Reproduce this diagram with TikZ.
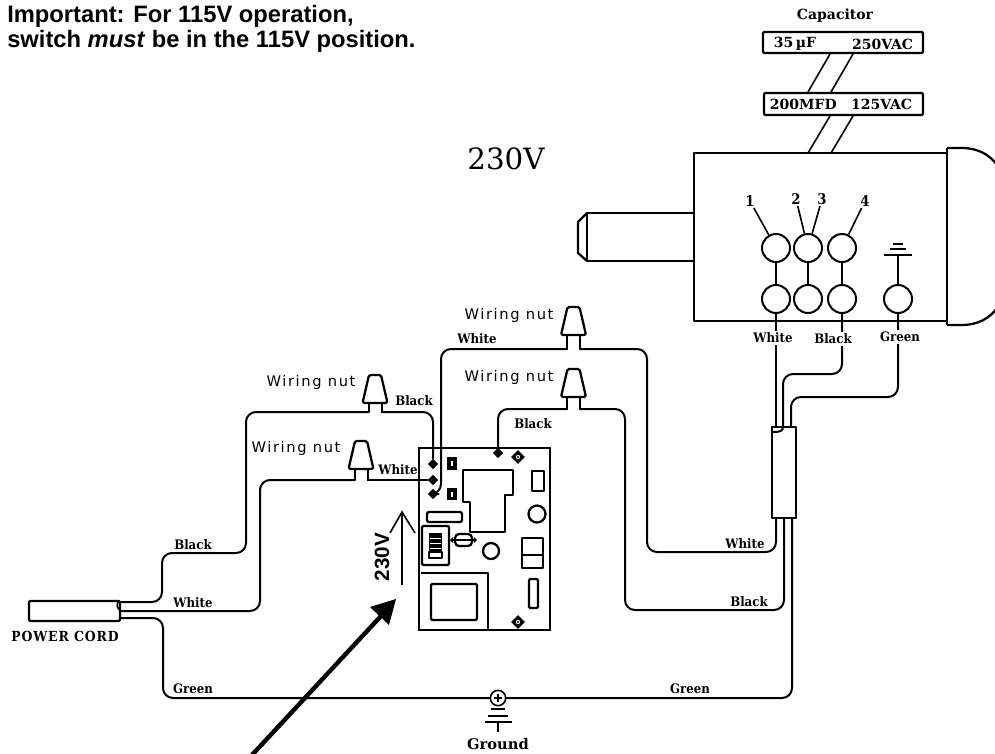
\documentclass[tikz,border=0pt]{standalone}
\usepackage{fontspec}
\usetikzlibrary{shapes.geometric}
\setmainfont{Liberation Sans}
\newfontfamily\slabf{DejaVu Serif Condensed}
\newfontfamily\capf{DejaVu Serif}
\newfontfamily\widef[LetterSpace=11]{DejaVu Sans}
\newfontfamily\bigf{DejaVu Serif}
\tikzset{
  wire/.style={line width=1.5pt,rounded corners=7.5pt,line cap=round},
  part/.style={line width=1.7pt,line join=round},
  thin part/.style={line width=1.2pt},
  lab/.style={font=\slabf\bfseries\fontsize{9.8}{11}\selectfont,inner sep=0.5pt},
  capl/.style={font=\capf\bfseries\fontsize{10.5}{12}\selectfont,inner sep=0.5pt},
  wlab/.style={lab,fill=white,inner sep=1.5pt},
  nutlab/.style={font=\widef\fontsize{11}{12}\selectfont,inner sep=0pt},
  term/.style={diamond,fill=black,inner sep=0pt,minimum size=8pt},
  tc/.style={circle,draw,line width=1.5pt,inner sep=0pt,minimum size=21pt},
  num/.style={font=\slabf\bfseries\fontsize{11}{12}\selectfont,inner sep=1pt},
  notetext/.style={anchor=base west,font=\bfseries\fontsize{17.8}{20}\selectfont,inner sep=0pt},
}
% name, centre x, base y, wire y
\newcommand{\wnut}[4]{%
  \draw[part,rounded corners=1.2pt] (#2-12.5,#3) -- (#2-6,#3-28) -- (#2+6,#3-28) -- (#2+12.5,#3) -- cycle;
  \coordinate (#1-l) at (#2-6.5,#4);
  \coordinate (#1-r) at (#2+6.5,#4);
  \draw[wire,rounded corners=0pt] (#2-6.5,#3) -- (#1-l);
  \draw[wire,rounded corners=0pt] (#2+6.5,#3) -- (#1-r);
}
\newcommand{\mount}[3]{%
  \node[diamond,fill=black,inner sep=0pt,minimum size=10.5pt] (#1) at (#2,#3) {};
  \fill[white] (#2,#3) circle[radius=2.7];
  \draw[line width=0.5pt] (#2,#3) circle[radius=2.7];
  \fill (#2,#3) circle[radius=1.2];
}
\begin{document}
\begin{tikzpicture}[x=0.75pt,y=-0.75pt]
\useasboundingbox (0,0) rectangle (995,753);
% top note
\node[notetext] (note1) at (7,22) {Important: For 115V operation,};
\node[notetext] (note2) at (7,47) {switch \textit{must} be in the 115V position.};
\node[font=\bigf\fontsize{22}{24}\selectfont,inner sep=0pt] (v230) at (506,159) {230V};
% capacitor
\node[capl] (captitle) at (835,16) {Capacitor};
\draw[part,rounded corners=1pt] (763,32) rectangle (923,53);
\draw[part,rounded corners=1pt] (764,93) rectangle (923,115);
\node[capl,anchor=west] (c35) at (773,44) {35\,µF};
\node[capl,anchor=east] (c250) at (914,44) {250VAC};
\node[capl,anchor=west] (c200) at (769,104) {200MFD};
\node[capl,anchor=east] (c125) at (913,104) {125VAC};
\coordinate (ca1) at (830,54); \coordinate (ca2) at (853,54);
\coordinate (cb1) at (808,92); \coordinate (cb2) at (831,92);
\coordinate (cc1) at (830,116); \coordinate (cc2) at (853,116);
\coordinate (cd1) at (808,153); \coordinate (cd2) at (831,153);
\draw[thin part] (ca1) -- (cb1) (ca2) -- (cb2) (cc1) -- (cd1) (cc2) -- (cd2);
% motor
\draw[part] (694,153) rectangle (947,321);
\draw[part] (947,148) -- (962,148) .. controls (978,148) and (990,155) .. (997,165);
\draw[part] (947,148) -- (947,325);
\draw[part] (947,325) -- (962,325) .. controls (978,325) and (990,318) .. (997,308);
\draw[part] (694,213) -- (587,213) -- (587,261) -- (694,261);
\draw[part] (587,213) -- (578,222) -- (578,253) -- (587,261);
\node[tc] (t1) at (776,248) {};
\node[tc] (t2) at (808,248) {};
\node[tc] (t3) at (842,248) {};
\node[tc] (b1) at (776,299) {};
\node[tc] (b2) at (808,299) {};
\node[tc] (b3) at (842,299) {};
\node[tc] (b4) at (898,299) {};
\draw[wire] (t1) -- (b1);
\draw[wire] (t2) -- (b2);
\draw[wire] (t3) -- (b3);
\node[num] (n1) at (750,201) {1};
\node[num] (n2) at (796,199) {2};
\node[num] (n3) at (822,199) {3};
\node[num] (n4) at (865,201) {4};
\draw[thin part] (n1) -- (t1);
\draw[thin part] (n2) -- (t2);
\draw[thin part] (n3) -- (t2);
\draw[thin part] (n4) -- (t3);
\coordinate (mg) at (898,255);
\draw[wire] (b4) -- (mg);
\draw[line width=1.3pt] (884,255) -- (912,255);
\draw[line width=1.1pt] (890,249) -- (906,249);
\draw[line width=0.9pt] (893,244) -- (903,244);
% wire sleeve
\coordinate (su1) at (776,427); \coordinate (su2) at (783,427); \coordinate (su3) at (791,427);
\coordinate (sl1) at (776,518); \coordinate (sl2) at (784,518); \coordinate (sl3) at (792,518);
% power cord
\coordinate (pc1) at (120,602); \coordinate (pc2) at (120,611); \coordinate (pc3) at (120,618);
% wiring nuts
\wnut{na}{375}{403}{412}
\wnut{nb}{361}{469}{480}
\wnut{nc}{573.5}{335}{349}
\wnut{nd}{573.5}{397}{409}
% board terminals
\node[term] (ta) at (433,464) {};
\node[term] (tb) at (433,480) {};
\node[term] (tc) at (433,494) {};
\node[term] (td) at (498,453) {};
% wires
\draw[wire] (b1) -- (su1);
\draw[wire] (b3) -- (842,374) -- (783,374) -- (su2);
\draw[wire] (b4) -- (898,397) -- (791,397) -- (su3);
\draw[wire] (sl1) -- (776,552) -- (647,552) -- (647,349) -- (nc-r);
\draw[wire] (sl2) -- (784,610) -- (625,610) -- (625,409) -- (nd-r);
\draw[wire] (sl3) -- (792,698) -- (163,698) -- (163,618) -- (pc3);
\draw[wire] (pc1) -- (162,602) -- (162,553) -- (246,553) -- (246,412) -- (na-l);
\draw[wire] (na-r) -- (433,412) -- (ta);
\draw[wire] (pc2) -- (260,611) -- (260,480) -- (nb-l);
\draw[wire] (nb-r) -- (tb);
\draw[wire] (nc-l) -- (441,349) -- (441,494) -- (tc);
\draw[wire] (nd-l) -- (498,409) -- (td);
% sleeve
\draw[part,fill=white] (772,427) rectangle (796,518);
\draw[wire] (783,427) .. controls (783,431) and (780,432) .. (773,432);
% cord
\draw[part,fill=white,rounded corners=1pt] (29,601) rectangle (120,621);
\draw[thin part] (118,602) .. controls (116,606) and (118,609) .. (121,611);
% wire labels
\node[wlab] (lw1) at (773,338) {White};
\node[wlab] (lb1) at (833,339) {Black};
\node[wlab] (lg1) at (900,337) {Green};
\node[lab] (lw2) at (477,339) {White};
\node[lab] (lb2) at (414,401) {Black};
\node[lab] (lb3) at (533,424) {Black};
\node[lab] (lw3) at (398,470) {White};
\node[lab] (lb4) at (193,545) {Black};
\node[lab] (lw4) at (193,603) {White};
\node[lab] (lg2) at (193,689) {Green};
\node[lab] (lg3) at (690,689) {Green};
\node[lab] (lw5) at (745,544) {White};
\node[lab] (lb5) at (749,602) {Black};
\node[lab,font=\slabf\bfseries\fontsize{10.4}{12}\selectfont\addfontfeatures{LetterSpace=6}] (pcl) at (65,636) {POWER CORD};
\node[nutlab] (wa) at (311,382) {Wiring nut};
\node[nutlab] (wb) at (296,448) {Wiring nut};
\node[nutlab] (wc) at (509,315) {Wiring nut};
\node[nutlab] (wd) at (509,377) {Wiring nut};
% board
\draw[line width=1.9pt] (419,448) rectangle (550,630);
\draw[part] (421,573) -- (488,573) -- (488,630);
\draw[part,rounded corners=1pt] (431,584) rectangle (477,620);
\draw[part,rounded corners=1pt] (422,526) rectangle (449,565);
\fill (447,457) rectangle (457,470);
\fill (447,488) rectangle (457,500);
\fill[white] (451,461) rectangle (453,466);
\fill[white] (451,492) rectangle (453,497);
\draw[part] (463,470) -- (513,470) -- (513,495) -- (505,495) -- (505,532) -- (470,532) -- (470,502) -- (463,502) -- cycle;
\draw[part] (532,471) rectangle (544,491);
\draw[part] (537,514) circle[radius=8.5];
\draw[part,rounded corners=1.5pt] (427,512) rectangle (462,522);
\fill (429,533) rectangle (442,553);
\draw[part] (429,552) rectangle (442,558);
\draw[white,line width=0.7pt] (430,538) -- (441,538) (430,543) -- (441,543) (430,548) -- (441,548);
\draw[thin part] (453,540) -- (475,540);
\draw[part,rounded corners=3pt] (455,534) rectangle (472,546);
\draw[thin part] (456,540) -- (471,540);
\fill (453,537) -- (450,540) -- (453,543) -- cycle;
\fill (474,537) -- (477,540) -- (474,543) -- cycle;
\draw[part] (491,551) circle[radius=8];
\draw[part] (522,538) rectangle (543,568);
\draw[part] (522,555) -- (543,555);
\draw[part,rounded corners=1pt] (529,579) rectangle (538,608);
\mount{ma}{518}{457}
\mount{mb}{518}{622}
% 230V arrow
\coordinate (vs) at (402,585); \coordinate (ve) at (402,512);
\draw[thin part] (vs) -- (ve);
\draw[thin part] (390,533) -- (ve) -- (415,533);
\node[rotate=90,font=\bfseries\fontsize{15.5}{17}\selectfont,inner sep=0pt] (vlab) at (382,557) {230V};
% ground
\node[circle,draw,fill=white,line width=1.2pt,inner sep=0pt,minimum size=11.5pt] (gnd) at (498,698) {};
\draw[line width=0.9pt] (494,698) -- (502,698) (498,694) -- (498,702);
\coordinate (gs) at (498,732);
\draw[line width=1pt] (491,709) -- (505,709);
\draw[line width=1pt] (488,716) -- (508,716);
\draw[line width=1.1pt] (485,722) -- (512,722);
\draw[line width=1.1pt] (498,722) -- (gs);
\node[capl,font=\capf\bfseries\fontsize{11}{12}\selectfont] (gl) at (498,744) {Ground};
% big arrow
\coordinate (ba) at (252,755); \coordinate (bb) at (381,616);
\draw[line width=3.3pt] (ba) -- (bb);
\fill (396,599) -- (370,607) -- (389,625) -- cycle;
\end{tikzpicture}
\end{document}
